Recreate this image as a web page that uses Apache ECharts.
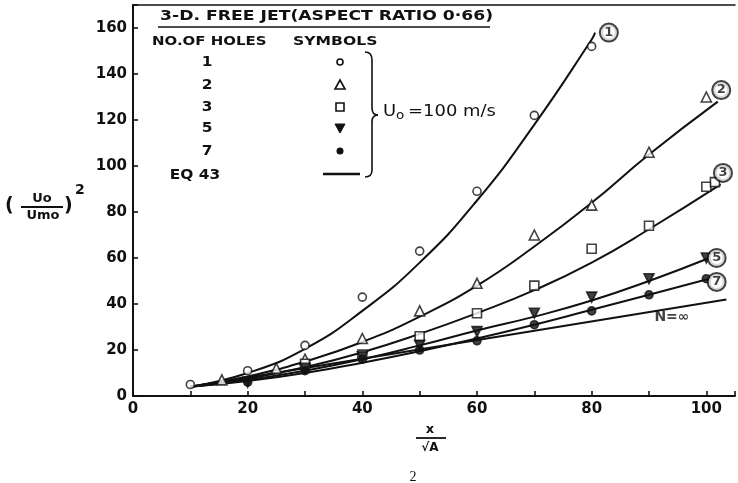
<!DOCTYPE html>
<html><head><meta charset="utf-8">
<script src="https://cdn.jsdelivr.net/npm/echarts@6/dist/echarts.min.js"></script>
<style>html,body{margin:0;padding:0;background:#fff}#c{width:738px;height:483px}</style>
</head><body><div id="c"></div>
<script>
// ---- data ----
const xTicks = [0, 20, 40, 60, 80, 100];
const yTicks = [0, 20, 40, 60, 80, 100, 120, 140, 160];
const holes1 = [[10,5],[20,11],[30,22],[40,43],[50,63],[60,89],[70,122],[80,152]];
const holes2 = [[15.5,7],[25,12],[30,16],[40,25],[50,37],[60,49],[70,70],[80,83],[90,106],[100,130]];
const holes3 = [[30,14],[40,18],[50,26],[60,36],[70,48],[80,64],[90,74],[100,91],[101.5,93]];
const holes5 = [[20,6],[30,12],[40,17],[50,22],[60,28],[70,36],[80,43],[90,51],[100,60]];
const holes7 = [[20,6],[30,11],[40,16],[50,20],[60,24],[70,31],[80,37],[90,44],[100,51]];
const eq1 = [[10,4],[20,10],[30,20.5],[40,37],[50,58],[60,85],[70,118],[80,155],[80.6,158]];
const eq2 = [[10,4],[20,8.5],[30,15],[40,23.5],[50,34.5],[60,48],[70,65],[80,84],[90,105],[102,128]];
const eq3 = [[10,4],[20,7.5],[30,12.5],[40,19],[50,27],[60,36],[70,46],[80,58],[90,72.5],[102.5,92]];
const eq5 = [[10,4],[20,7],[30,11],[40,16],[50,22],[60,28.5],[70,34.5],[80,41.5],[90,50],[100.5,60]];
const eq7 = [[10,4],[20,6.5],[30,10],[40,14.5],[50,19.5],[60,25],[70,31],[80,37.5],[90,44],[100.5,51]];
const eqInf = [[10,4],[103.5,42]];
const curveTags = [[83,158,'1'],[102.6,133,'2'],[102.9,97,'3'],[101.8,60,'5'],[101.8,49.6,'7'],[94,34,'N=∞']];
const legendNumbers = ['1','2','3','5','7','EQ 43'];

const ink = '#111';
const F = 'DejaVu Sans';
const chart = echarts.init(document.getElementById('c'));

function lineSeries(d){ return {type:'line', data:d, smooth:true, showSymbol:false, lineStyle:{color:ink,width:2}, z:2, silent:true}; }
function pts(d, symbol, size, filled, rotate){
  return {type:'scatter', data:d, symbol:symbol, symbolSize:size, symbolRotate:rotate||0, z:3,
    itemStyle:{color: filled? ink : '#fff', borderColor:ink, borderWidth:1.6}};
}
function txt(x, y, t, font, align, sx){
  return {type:'text', x:x, y:y, scaleX:sx||1, style:{text:t, font:font, fill:ink, align:align||'left', verticalAlign:'middle'}};
}

const legendY = [62, 85, 107, 128, 151, 175];
const graphic = [
  txt(160, 16, '3-D. FREE JET(ASPECT RATIO 0·66)', 'bold 14px '+F, 'left', 1.23),
  {type:'line', shape:{x1:158,y1:27,x2:490,y2:27}, style:{stroke:ink,lineWidth:1.6}},
  txt(152, 42, 'NO.OF HOLES', 'bold 13px '+F, 'left', 1.15),
  txt(293, 42, 'SYMBOLS', 'bold 13px '+F, 'left', 1.2),
  {type:'circle', shape:{cx:340,cy:legendY[0],r:3}, style:{fill:'#fff',stroke:ink,lineWidth:1.6}},
  {type:'polygon', shape:{points:[[340,80],[345,89],[335,89]]}, style:{fill:'#fff',stroke:ink,lineWidth:1.6}},
  {type:'rect', shape:{x:336,y:103,width:8,height:8}, style:{fill:'#fff',stroke:ink,lineWidth:1.6}},
  {type:'polygon', shape:{points:[[335,124],[345,124],[340,133]]}, style:{fill:ink,stroke:ink,lineWidth:1}},
  {type:'circle', shape:{cx:340,cy:legendY[4],r:3.5}, style:{fill:ink}},
  {type:'line', shape:{x1:323,y1:174,x2:360,y2:174}, style:{stroke:ink,lineWidth:2.5}},
  // brace
  {type:'bezierCurve', shape:{x1:365,y1:52,cpx1:372,cpy1:52,x2:372,y2:60}, style:{fill:null,stroke:ink,lineWidth:1.6}},
  {type:'line', shape:{x1:372,y1:60,x2:372,y2:108}, style:{stroke:ink,lineWidth:1.6}},
  {type:'bezierCurve', shape:{x1:372,y1:108,cpx1:372,cpy1:115,x2:378,y2:115}, style:{fill:null,stroke:ink,lineWidth:1.6}},
  {type:'bezierCurve', shape:{x1:378,y1:115,cpx1:372,cpy1:115,x2:372,y2:122}, style:{fill:null,stroke:ink,lineWidth:1.6}},
  {type:'line', shape:{x1:372,y1:122,x2:372,y2:170}, style:{stroke:ink,lineWidth:1.6}},
  {type:'bezierCurve', shape:{x1:372,y1:170,cpx1:372,cpy1:177,x2:365,y2:177}, style:{fill:null,stroke:ink,lineWidth:1.6}},
  {type:'text', x:383, y:112, scaleX:1.12, style:{text:'{u|U}{s|o} {u|=100 m/s}', verticalAlign:'middle', rich:{u:{fontFamily:F, fontSize:16, fill:ink}, s:{fontFamily:F, fontSize:12, fill:ink, padding:[7,0,0,0]}}}},
  // y-axis title
  txt(5, 206, '(', 'bold 19px '+F),
  txt(42, 199, 'Uo', 'bold 13px '+F, 'center'),
  {type:'line', shape:{x1:21,y1:207,x2:63,y2:207}, style:{stroke:ink,lineWidth:1.8}},
  txt(43, 216, 'Umo', 'bold 13px '+F, 'center'),
  txt(64, 206, ')', 'bold 19px '+F),
  txt(75, 190, '2', 'bold 14px '+F),
  // x-axis title
  txt(430, 430, 'x', 'bold 13px '+F, 'center'),
  {type:'line', shape:{x1:416,y1:438,x2:446,y2:438}, style:{stroke:ink,lineWidth:1.8}},
  txt(430, 448, '√A', 'bold 12px '+F, 'center'),
  txt(413, 477, '2', '14px "Liberation Serif"', 'center')
];
legendNumbers.forEach((t,i)=>{
  graphic.push(txt(i<5?207:195, legendY[i], t, 'bold 14px '+F, 'center', 1.1));
});

const axisCommon = {
  axisLine:{show:true, lineStyle:{color:ink,width:2}},
  axisTick:{show:true, inside:true, length:5, lineStyle:{color:ink,width:1.6}},
  splitLine:{show:false},
  axisLabel:{color:ink, fontFamily:F, fontWeight:'bold', fontSize:15}
};

chart.setOption({
  animation:false,
  backgroundColor:'#fff',
  grid:{left:133, right:0, top:5, bottom:87},
  xAxis:[
    Object.assign({}, axisCommon, {type:'value', min:0, max:105, interval:10,
      axisLabel:Object.assign({}, axisCommon.axisLabel, {margin:6, formatter:v=> xTicks.includes(v)? String(v):''})}),
    {type:'value', position:'top', min:0, max:105, axisLine:{show:true,lineStyle:{color:ink,width:1.5}}, axisTick:{show:false}, axisLabel:{show:false}, splitLine:{show:false}}
  ],
  yAxis:Object.assign({}, axisCommon, {type:'value', min:0, max:170, interval:20,
      axisLabel:Object.assign({}, axisCommon.axisLabel, {margin:6, formatter:v=> yTicks.includes(v)? String(v):''})}),
  graphic: graphic,
  series:[
    lineSeries(eq1), lineSeries(eq2), lineSeries(eq3), lineSeries(eq5), lineSeries(eq7), lineSeries(eqInf),
    pts(holes1,'circle',8,false),
    pts(holes2,'triangle',10,false),
    pts(holes3,'rect',9,false),
    pts(holes5,'triangle',10,true,180),
    pts(holes7,'circle',8,true),
    {type:'scatter', data:curveTags, symbolSize:0, z:4,
      label:{show:true, position:'inside', formatter:p=> p.value[2].length>1 ? '{t|'+p.value[2]+'}' : '{c|'+p.value[2]+'}',
        rich:{
          c:{fontFamily:F, fontWeight:'bold', fontSize:13, color:ink, width:16, height:16, lineHeight:16, align:'center', borderColor:ink, borderWidth:2, borderRadius:9, backgroundColor:'#fff'},
          t:{fontFamily:F, fontWeight:'bold', fontSize:14, color:ink}
        }}}
  ]
});
</script></body></html>
